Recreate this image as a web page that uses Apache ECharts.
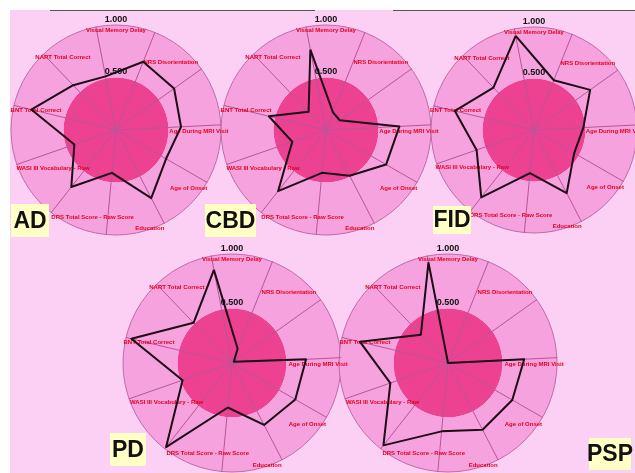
<!DOCTYPE html>
<html>
<head>
<meta charset="utf-8">
<script src="https://cdn.jsdelivr.net/npm/echarts@6/dist/echarts.min.js"></script>
<style>
  html, body { margin: 0; padding: 0; background: #ffffff; }
  #wrap { position: relative; width: 635px; height: 473px; overflow: hidden; }
  #panel { position: absolute; left: 10px; top: 10px; right: 0; bottom: 0; background: #fbd0f4; }
  #chart { position: absolute; left: 0; top: 0; width: 635px; height: 473px; }
</style>
</head>
<body>
<div id="wrap"><div id="panel"></div><div id="chart"></div></div>
<script>
// Axes, listed counter-clockwise from the top spoke
const axisNames = [
  'Visual Memory Delay', 'NART Total Correct', 'BNT Total Correct',
  'WASI III Vocabulary - Raw', 'DRS Total Score - Raw Score', '',
  'Education', 'Age of Onset', 'Age During MRI Visit', '', 'NRS Disorientation'
];
const groups = ['AD', 'CBD', 'FID', 'PD', 'PSP'];
const ringTicks = ['0.500', '1.000'];

// Normalised scores (0-1) per diagnostic group, same order as axisNames
const AD  = [0.52, 0.59, 0.83, 0.42, 0.69, 0.41, 0.73, 0.55, 0.62, 0.68, 0.70];
const CBD = [0.78, 0.24, 0.56, 0.34, 0.74, 0.41, 0.49, 0.66, 0.70, 0.16, 0.18];
const FID = [0.93, 0.57, 0.79, 0.59, 0.83, 0.42, 0.69, 0.45, 0.48, 0.67, 0.52];
const PD  = [0.87, 0.51, 0.95, 0.48, 0.98, 0.41, 0.64, 0.67, 0.68, 0.02, 0.14];
const PSP = [0.94, 0.36, 0.83, 0.56, 0.96, 0.63, 0.69, 0.68, 0.70, 0.00, 0.00];
const groupValues = [AD, CBD, FID, PD, PSP];

// Layout of the five radar panels and their name tags
const panels = [
  { center: [116, 130], radius: 105, tag: [11, 204, 38, 33] },
  { center: [326, 130], radius: 105, tag: [205, 204, 51, 33] },
  { center: [534, 130], radius: 103, tag: [433, 206, 38, 28] },
  { center: [232, 363], radius: 109, tag: [110, 433, 36, 33] },
  { center: [448, 363], radius: 109, tag: [589, 438, 42, 32] }
];
// Where each axis name sits inside the ring: [angle in degrees, fraction of radius]
const namePlacement = [
  [90, 0.95], [126, 0.86], [166, 0.785], [-149, 0.70], [-105, 0.86], null,
  [-71, 0.99], [-39, 0.89], [-1, 0.79], null, [51, 0.83]
];

const chart = echarts.init(document.getElementById('chart'), null, { renderer: 'canvas' });

const radar = panels.map(p => ({
  center: p.center,
  radius: p.radius,
  startAngle: 101,
  shape: 'circle',
  splitNumber: 2,
  indicator: axisNames.map(n => ({ name: n, min: 0, max: 1 })),
  axisName: { show: false },
  splitArea: { show: true, areaStyle: { color: ['#ec4291', '#f6a2de'] } },
  splitLine: { lineStyle: { color: ['rgba(0,0,0,0)', 'rgba(0,0,0,0)', '#bf6aa8'], width: 1 } },
  axisLine: { lineStyle: { color: '#b8559a', width: 1 } },
  axisTick: { show: false },
  axisLabel: { show: false }
}));

const series = groups.map((g, i) => ({
  type: 'radar',
  radarIndex: i,
  name: g,
  symbol: 'none',
  silent: true,
  z: 10,
  lineStyle: { color: '#1d0b16', width: 2 },
  data: [{ value: groupValues[i], name: g }]
}));

const graphic = [];
// thin frame lines along the top edge
graphic.push({ type: 'line', z: 50, shape: { x1: 50, y1: 10.5, x2: 315, y2: 10.5 }, style: { stroke: '#555', lineWidth: 1 } });
graphic.push({ type: 'line', z: 50, shape: { x1: 393, y1: 10.5, x2: 635, y2: 10.5 }, style: { stroke: '#555', lineWidth: 1 } });

panels.forEach((p, i) => {
  // axis names
  axisNames.forEach((n, k) => {
    const place = namePlacement[k];
    if (!n || !place) return;
    const a = place[0] * Math.PI / 180;
    const r = place[1] * p.radius;
    graphic.push({
      type: 'text', z: 5,
      x: p.center[0] + r * Math.cos(a), y: p.center[1] - r * Math.sin(a),
      style: {
        text: n, fill: '#e6001e', font: 'bold 6px "Liberation Sans"',
        textAlign: 'center', textVerticalAlign: 'middle'
      }
    });
  });
  // ring value labels above the top of each ring
  ringTicks.forEach((t, k) => {
    const frac = (k + 1) / ringTicks.length;
    graphic.push({
      type: 'text', z: 60,
      x: p.center[0], y: p.center[1] - p.radius * frac - 1,
      style: {
        text: t, fill: '#111', font: 'bold 9px "Liberation Sans"',
        textAlign: 'center', textVerticalAlign: 'bottom'
      }
    });
  });
  // group name tag
  const [tx, ty, tw, th] = p.tag;
  graphic.push({ type: 'rect', z: 70, shape: { x: tx, y: ty, width: tw, height: th }, style: { fill: '#ffffc6' } });
  graphic.push({
    type: 'text', z: 71, x: tx + tw / 2, y: ty + th / 2 + 1,
    style: {
      text: groups[i], fill: '#111', font: 'bold 23px "Liberation Sans"',
      textAlign: 'center', textVerticalAlign: 'middle'
    }
  });
});

chart.setOption({
  backgroundColor: 'transparent',
  animation: false,
  radar: radar,
  series: series,
  graphic: graphic
});
</script>
</body>
</html>
